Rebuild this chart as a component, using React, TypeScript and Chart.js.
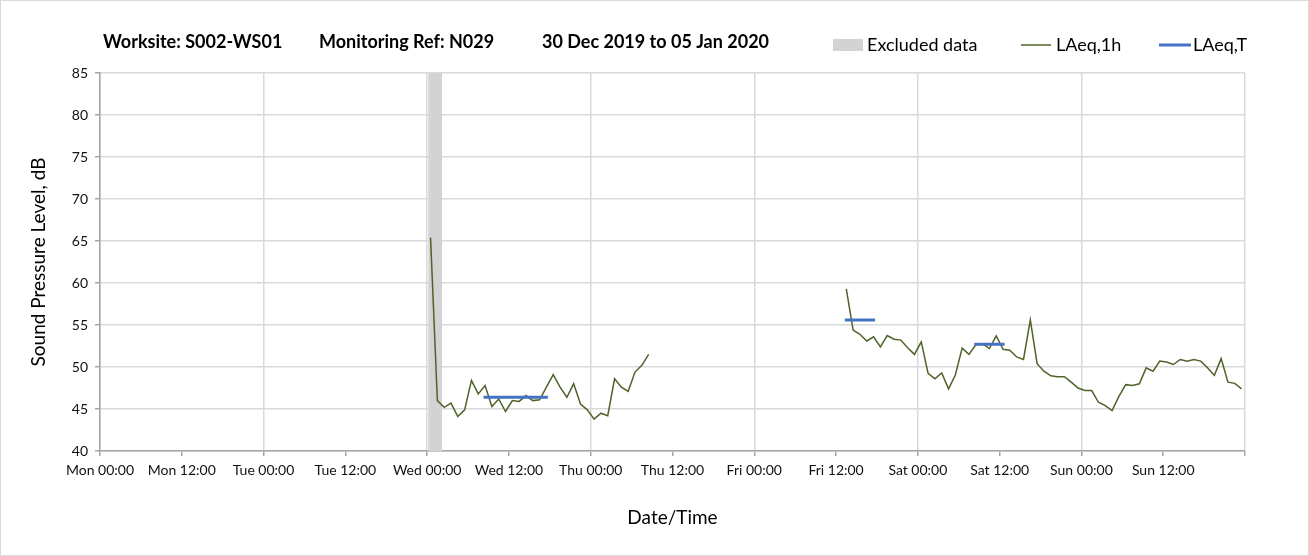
import React, { useEffect, useRef } from 'react';
import { Chart, registerables } from 'chart.js';

Chart.register(...registerables);

// x axis: hours since Mon 00:00 (30 Dec 2019)
const TICK_LABELS = [
  'Mon 00:00', 'Mon 12:00', 'Tue 00:00', 'Tue 12:00', 'Wed 00:00', 'Wed 12:00', 'Thu 00:00',
  'Thu 12:00', 'Fri 00:00', 'Fri 12:00', 'Sat 00:00', 'Sat 12:00', 'Sun 00:00', 'Sun 12:00',
];

// LAeq,1h segment 1: hourly from Wed 00:30
const SEG1_START = 48.5;
const SEG1_VALUES = [
  65.4, 46.0, 45.2, 45.7, 44.1, 44.9, 48.4, 46.8, 47.8, 45.3, 46.2, 44.7, 46.0, 45.9, 46.6, 46.0,
  46.1, 47.6, 49.1, 47.6, 46.4, 48.0, 45.6, 44.9, 43.8, 44.5, 44.2, 48.6, 47.6, 47.1, 49.4, 50.2, 51.5,
];

// LAeq,1h segment 2: hourly from Fri 13:30
const SEG2_START = 109.5;
const SEG2_VALUES = [
  59.3, 54.4, 53.9, 53.1, 53.6, 52.4, 53.75, 53.3, 53.2, 52.3, 51.5,
  53.0, 49.25, 48.6, 49.3, 47.4, 49.05, 52.25, 51.5, 52.65, 52.75, 52.2, 53.7, 52.1, 52.0, 51.2,
  50.9, 55.6, 50.4, 49.5, 48.95, 48.85, 48.85, 48.2, 47.5,
  47.2, 47.2, 45.8, 45.4, 44.8, 46.5, 47.9, 47.8, 48.0, 49.9, 49.5, 50.7, 50.6, 50.3, 50.9, 50.7,
  50.9, 50.7, 49.9, 49.0, 51.0, 48.2, 48.05, 47.4,
];

// LAeq,T periods
const LAEQT_STARTS = [56.5, 109.5, 128.5];
const LAEQT_ENDS = [65.5, 113.5, 132.5];
const LAEQT_VALUES = [46.4, 55.6, 52.7];

// Excluded data period
const EXCLUDED_START = 48.15;
const EXCLUDED_END = 50.2;

const Y_MIN = 40;
const Y_MAX = 85;

const FONT = 'Lato, "Open Sans", sans-serif';

export default function App() {
  const canvasRef = useRef<HTMLCanvasElement | null>(null);

  useEffect(() => {
    document.body.style.margin = '0';
    const canvas = canvasRef.current;
    if (!canvas) return;

    const laeq1h: any[] = [];
    SEG1_VALUES.forEach((v, i) => laeq1h.push({ x: SEG1_START + i, y: v }));
    laeq1h.push({ x: 90, y: null });
    SEG2_VALUES.forEach((v, i) => laeq1h.push({ x: SEG2_START + i, y: v }));

    const laeqT: any[] = [];
    LAEQT_VALUES.forEach((v, i) => {
      if (i > 0) laeqT.push({ x: (LAEQT_ENDS[i - 1] + LAEQT_STARTS[i]) / 2, y: null });
      laeqT.push({ x: LAEQT_STARTS[i], y: v });
      laeqT.push({ x: LAEQT_ENDS[i], y: v });
    });

    const excluded = [
      { x: EXCLUDED_START, y: Y_MAX },
      { x: EXCLUDED_END, y: Y_MAX },
    ];

    const header = {
      id: 'header',
      afterDraw(chart: any) {
        const ctx = chart.ctx;
        ctx.save();
        ctx.textBaseline = 'middle';
        ctx.textAlign = 'left';
        ctx.fillStyle = '#000';
        ctx.font = `bold 18px ${FONT}`;
        ctx.fillText('Worksite: S002-WS01', 102, 41);
        ctx.fillText('Monitoring Ref: N029', 318, 41);
        ctx.fillText('30 Dec 2019 to 05 Jan 2020', 541, 41);

        ctx.font = `18px ${FONT}`;
        ctx.fillStyle = '#d3d3d3';
        ctx.fillRect(832, 38, 30, 12);
        ctx.fillStyle = '#000';
        ctx.fillText('Excluded data', 866, 44);

        ctx.strokeStyle = '#4F6228';
        ctx.lineWidth = 1.5;
        ctx.beginPath();
        ctx.moveTo(1020, 44);
        ctx.lineTo(1050, 44);
        ctx.stroke();
        ctx.fillText('LAeq,1h', 1055, 44);

        ctx.strokeStyle = '#4472C4';
        ctx.lineWidth = 3;
        ctx.beginPath();
        ctx.moveTo(1158, 44);
        ctx.lineTo(1190, 44);
        ctx.stroke();
        ctx.fillText('LAeq,T', 1192, 44);
        ctx.restore();
      },
    };

    const chart = new Chart(canvas, {
      type: 'line',
      data: {
        datasets: [
          {
            label: 'LAeq,T',
            data: laeqT,
            borderColor: '#4472C4',
            borderWidth: 3,
            borderCapStyle: 'square',
            pointRadius: 0,
            spanGaps: false,
            fill: false,
            order: 1,
          },
          {
            label: 'LAeq,1h',
            data: laeq1h,
            borderColor: '#4F6228',
            borderWidth: 1.5,
            pointRadius: 0,
            spanGaps: false,
            fill: false,
            tension: 0,
            order: 2,
          },
          {
            label: 'Excluded data',
            data: excluded,
            borderWidth: 0,
            borderColor: 'rgba(0,0,0,0)',
            backgroundColor: '#d3d3d3',
            pointRadius: 0,
            fill: 'start',
            order: 3,
          },
        ],
      },
      options: {
        animation: false,
        responsive: true,
        maintainAspectRatio: false,
        layout: { padding: { top: 72, right: 63, left: 0, bottom: 0 } },
        plugins: {
          legend: { display: false },
          title: { display: false },
          tooltip: { enabled: false },
        },
        scales: {
          x: {
            type: 'linear',
            min: 0,
            max: 168,
            afterFit: (scale: any) => {
              scale.height = 104;
            },
            ticks: {
              stepSize: 12,
              autoSkip: false,
              maxRotation: 0,
              minRotation: 0,
              padding: 6,
              color: '#111',
              font: { family: FONT, size: 14 },
              callback: (v: any) => {
                const idx = Math.round(Number(v) / 12);
                return TICK_LABELS[idx] ?? '';
              },
            },
            grid: {
              color: (ctx: any) =>
                ctx.tick && ctx.tick.value % 24 === 0 ? '#d9d9d9' : 'rgba(0,0,0,0)',
              lineWidth: 1.5,
              tickColor: '#a6a6a6',
              tickLength: 5,
              drawTicks: true,
            },
            border: { color: '#a6a6a6', width: 1.5 },
            title: {
              display: true,
              text: 'Date/Time',
              color: '#000',
              font: { family: FONT, size: 19 },
              padding: { top: 0, bottom: 26 },
            },
          },
          y: {
            type: 'linear',
            min: Y_MIN,
            max: Y_MAX,
            afterFit: (scale: any) => {
              scale.width = 99;
            },
            ticks: {
              stepSize: 5,
              padding: 7,
              color: '#111',
              font: { family: FONT, size: 14 },
            },
            grid: {
              color: '#d9d9d9',
              lineWidth: 1.5,
              tickColor: '#a6a6a6',
              tickLength: 5,
            },
            border: { color: '#a6a6a6', width: 1.5 },
            title: {
              display: true,
              text: 'Sound Pressure Level, dB',
              color: '#000',
              font: { family: FONT, size: 19 },
              padding: { top: 26, bottom: 0 },
            },
          },
        },
      },
      plugins: [header],
    });

    return () => {
      chart.destroy();
    };
  }, []);

  return (
    <div
      style={{
        position: 'relative',
        width: 1307,
        height: 554,
        border: '1px solid #d9d9d9',
        background: '#fff',
      }}
    >
      <canvas ref={canvasRef} />
    </div>
  );
}
